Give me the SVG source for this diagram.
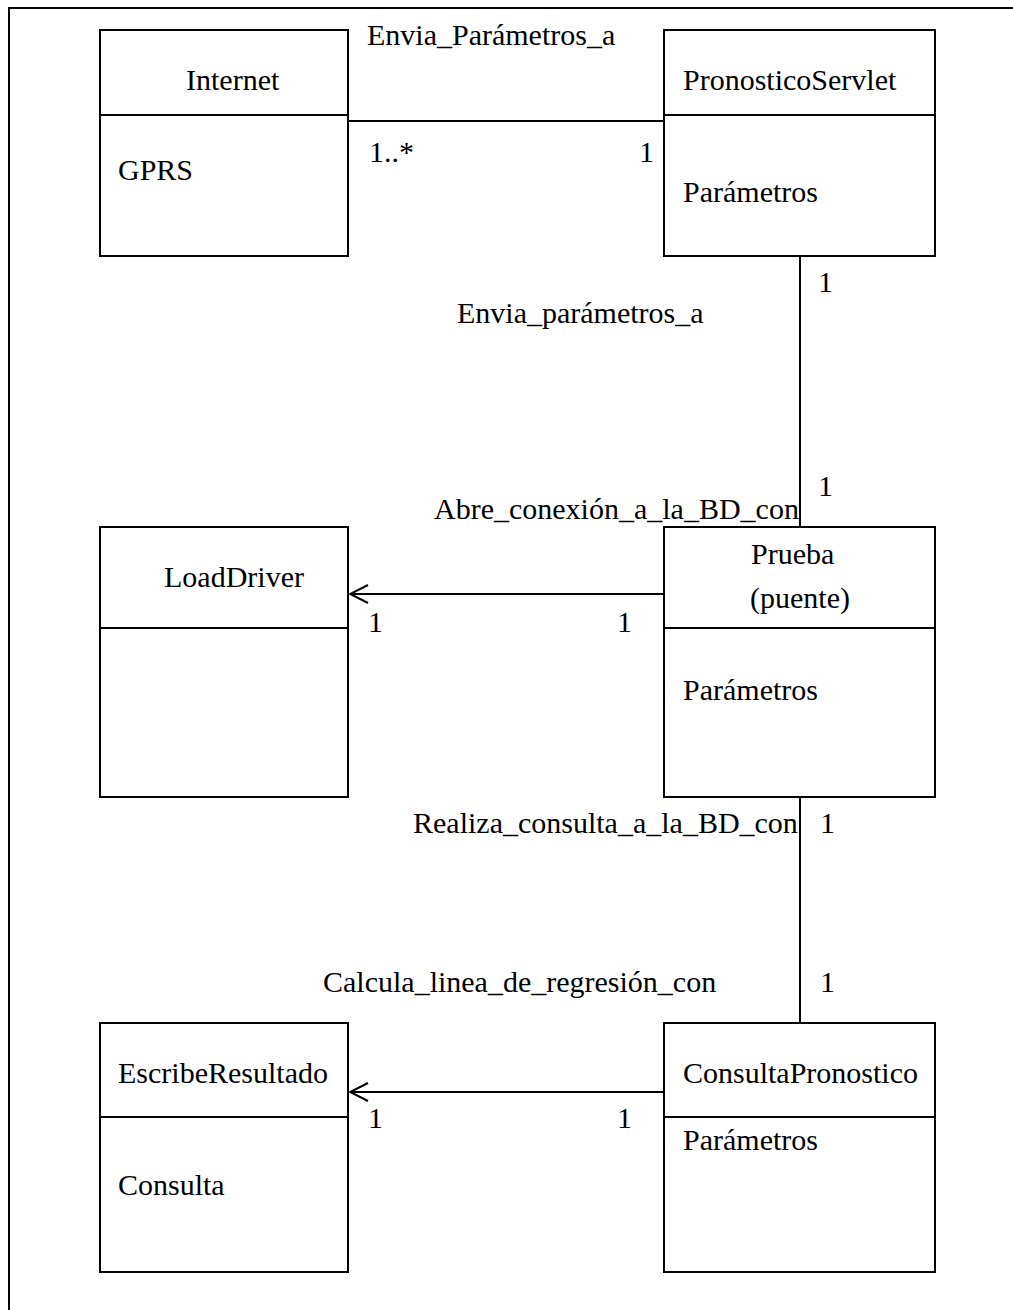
<svg xmlns="http://www.w3.org/2000/svg" width="1013" height="1310" viewBox="0 0 1013 1310">
<style>
text{font-family:"Liberation Serif","Times New Roman",serif;font-size:30px;fill:#000}
.box{fill:#fff;stroke:#000;stroke-width:2}
.ln{stroke:#000;stroke-width:2;fill:none}
</style>
<defs>
<marker id="open" viewBox="0 0 20 20" refX="19" refY="10" markerWidth="20" markerHeight="20" markerUnits="userSpaceOnUse" orient="auto">
<path d="M1,1 L19,10 L1,19" fill="none" stroke="#000" stroke-width="2"/>
</marker>
</defs>
<rect x="0" y="0" width="1013" height="1310" fill="#fff"/>
<rect x="9" y="8" width="1010" height="1310" fill="none" stroke="#000" stroke-width="2"/>
<g id="internet">
<rect class="box" x="100" y="30" width="248" height="226"/>
<line class="ln" x1="100" y1="115" x2="348" y2="115"/>
<text x="186" y="90">Internet</text>
<text x="118" y="180">GPRS</text>
</g>
<g id="pronosticoservlet">
<rect class="box" x="664" y="30" width="271" height="226"/>
<line class="ln" x1="664" y1="115" x2="935" y2="115"/>
<text x="683" y="90">PronosticoServlet</text>
<text x="683" y="202">Parámetros</text>
</g>
<g id="loaddriver">
<rect class="box" x="100" y="527" width="248" height="270"/>
<line class="ln" x1="100" y1="628" x2="348" y2="628"/>
<text x="164" y="587">LoadDriver</text>
</g>
<g id="prueba">
<rect class="box" x="664" y="527" width="271" height="270"/>
<line class="ln" x1="664" y1="628" x2="935" y2="628"/>
<text x="751" y="564">Prueba</text>
<text x="750" y="608">(puente)</text>
<text x="683" y="700">Parámetros</text>
</g>
<g id="escriberesultado">
<rect class="box" x="100" y="1023" width="248" height="249"/>
<line class="ln" x1="100" y1="1117" x2="348" y2="1117"/>
<text x="118" y="1083">EscribeResultado</text>
<text x="118" y="1195">Consulta</text>
</g>
<g id="consultapronostico">
<rect class="box" x="664" y="1023" width="271" height="249"/>
<line class="ln" x1="664" y1="1117" x2="935" y2="1117"/>
<text x="683" y="1083">ConsultaPronostico</text>
<text x="683" y="1150">Parámetros</text>
</g>
<g id="connectors">
<line class="ln" x1="348" y1="121" x2="664" y2="121"/>
<line class="ln" x1="800" y1="256" x2="800" y2="527"/>
<line class="ln" x1="664" y1="594" x2="350" y2="594" marker-end="url(#open)"/>
<line class="ln" x1="800" y1="797" x2="800" y2="1023"/>
<line class="ln" x1="664" y1="1092" x2="350" y2="1092" marker-end="url(#open)"/>
<text x="367" y="45">Envia_Parámetros_a</text>
<text x="369" y="162">1..*</text>
<text x="639" y="162">1</text>
<text x="457" y="323">Envia_parámetros_a</text>
<text x="818" y="292">1</text>
<text x="818" y="496">1</text>
<text x="434" y="519">Abre_conexión_a_la_BD_con</text>
<text x="368" y="632">1</text>
<text x="617" y="632">1</text>
<text x="413" y="833">Realiza_consulta_a_la_BD_con</text>
<text x="820" y="833">1</text>
<text x="323" y="992">Calcula_linea_de_regresión_con</text>
<text x="820" y="992">1</text>
<text x="368" y="1128">1</text>
<text x="617" y="1128">1</text>
</g>
</svg>
